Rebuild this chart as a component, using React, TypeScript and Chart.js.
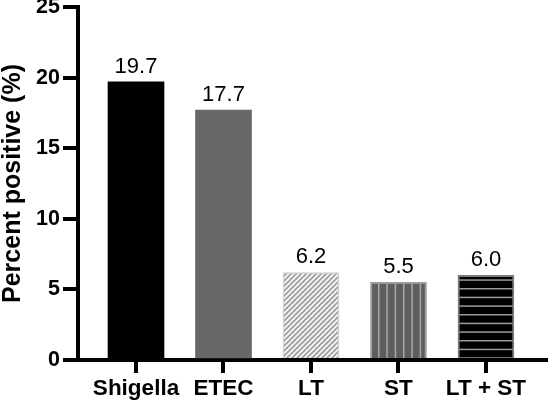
import React, { useEffect, useRef } from "react";
import { Chart, registerables } from "chart.js";

Chart.register(...registerables);

const categories = ["Shigella", "ETEC", "LT", "ST", "LT + ST"];
const percentPositive = [19.7, 17.7, 6.2, 5.5, 6.0];
const valueLabels = ["19.7", "17.7", "6.2", "5.5", "6.0"];
const yTicks = [0, 5, 10, 15, 20, 25];

const FONT = '"Liberation Sans", Arial, Helvetica, sans-serif';

function makeTile(w: number, h: number, draw: (c: CanvasRenderingContext2D) => void) {
  const cv = document.createElement("canvas");
  cv.width = w;
  cv.height = h;
  const c = cv.getContext("2d") as CanvasRenderingContext2D;
  draw(c);
  return cv;
}

function makePatterns(ctx: CanvasRenderingContext2D) {
  const diag = makeTile(5, 5, (c) => {
    c.fillStyle = "#ffffff";
    c.fillRect(0, 0, 5, 5);
    c.strokeStyle = "#a4a4a4";
    c.lineWidth = 2;
    c.beginPath();
    c.moveTo(-1, 6);
    c.lineTo(6, -1);
    c.moveTo(-1, 1);
    c.lineTo(1, -1);
    c.moveTo(4, 6);
    c.lineTo(6, 4);
    c.stroke();
  });
  const vert = makeTile(25, 4, (c) => {
    c.fillStyle = "#5e5e5e";
    c.fillRect(0, 0, 25, 4);
    c.fillStyle = "#a8a8a8";
    [3, 11.33, 19.67].forEach((x) => c.fillRect(x, 0, 1.5, 4));
  });
  const horiz = makeTile(4, 26, (c) => {
    c.fillStyle = "#000000";
    c.fillRect(0, 0, 4, 26);
    c.fillStyle = "#9a9a9a";
    [2, 10.67, 19.33].forEach((y) => c.fillRect(0, y, 4, 1.5));
  });
  return [
    ctx.createPattern(diag, "repeat"),
    ctx.createPattern(vert, "repeat"),
    ctx.createPattern(horiz, "repeat"),
  ];
}

const valueLabelPlugin = {
  id: "valueLabelPlugin",
  afterDatasetsDraw(chart: any) {
    const ctx = chart.ctx;
    const meta = chart.getDatasetMeta(0);
    ctx.save();
    ctx.font = `22px ${FONT}`;
    ctx.fillStyle = "#000";
    ctx.textAlign = "center";
    ctx.textBaseline = "alphabetic";
    meta.data.forEach((el: any, i: number) => {
      ctx.fillText(valueLabels[i], el.x, el.y - 9);
    });
    ctx.restore();
  },
};

export default function App() {
  const ref = useRef<HTMLCanvasElement | null>(null);

  useEffect(() => {
    const canvas = ref.current!;
    const ctx = canvas.getContext("2d") as CanvasRenderingContext2D;
    const [ltPat, stPat, ltstPat] = makePatterns(ctx);

    const chart = new Chart(canvas, {
      type: "bar",
      data: {
        datasets: [
          {
            data: categories.map((c, i) => ({ x: i, y: percentPositive[i] })),
            backgroundColor: ["#000000", "#686868", ltPat, stPat, ltstPat] as any,
            borderColor: ["#000000", "#686868", "#d0d0d0", "#9a9a9a", "#7a7a7a"],
            borderWidth: [0, 0, 1.5, 2, 2],
            barThickness: 56,
          },
        ],
      },
      options: {
        responsive: false,
        animation: false,
        devicePixelRatio: 1,
        layout: { padding: 0 },
        plugins: {
          legend: { display: false },
          tooltip: { enabled: false },
        },
        scales: {
          x: {
            type: "linear",
            offset: false,
            min: -0.663,
            max: 4.709,
            afterBuildTicks: (s: any) => {
              s.ticks = categories.map((_, i) => ({ value: i }));
            },
            afterFit: (s: any) => {
              s.height = 43;
              s.paddingLeft = 0;
              s.paddingRight = 0;
            },
            ticks: {
              callback: (v: any) => categories[Number(v)] ?? "",
              font: { family: FONT, size: 22.5, weight: "bold" },
              color: "#000",
              padding: 2,
              maxRotation: 0,
              autoSkip: false,
            },
            grid: {
              offset: false,
              drawOnChartArea: false,
              drawTicks: true,
              tickLength: 13,
              color: "#000",
              lineWidth: 4,
            },
            border: { display: true, color: "#000", width: 4 },
          },
          y: {
            min: 0,
            max: 25,
            afterBuildTicks: (s: any) => {
              s.ticks = yTicks.map((v) => ({ value: v }));
            },
            afterFit: (s: any) => {
              s.width = 78;
              s.paddingTop = 7;
              s.paddingBottom = 0;
            },
            ticks: {
              font: { family: FONT, size: 21.5, weight: "bold" },
              color: "#000",
              padding: 3,
            },
            grid: {
              drawOnChartArea: false,
              drawTicks: true,
              tickLength: 15,
              color: "#000",
              lineWidth: 4,
            },
            border: { display: true, color: "#000", width: 4 },
            title: {
              display: true,
              text: "Percent positive (%)",
              font: { family: FONT, size: 25, weight: "bold", lineHeight: 1.05 },
              color: "#000",
              padding: 0,
            },
          },
        },
      } as any,
      plugins: [valueLabelPlugin],
    });

    return () => chart.destroy();
  }, []);

  return (
    <div style={{ position: "fixed", left: 0, top: 0, width: 548, height: 403, background: "#fff" }}>
      <canvas ref={ref} width={548} height={403} style={{ display: "block" }} />
    </div>
  );
}
